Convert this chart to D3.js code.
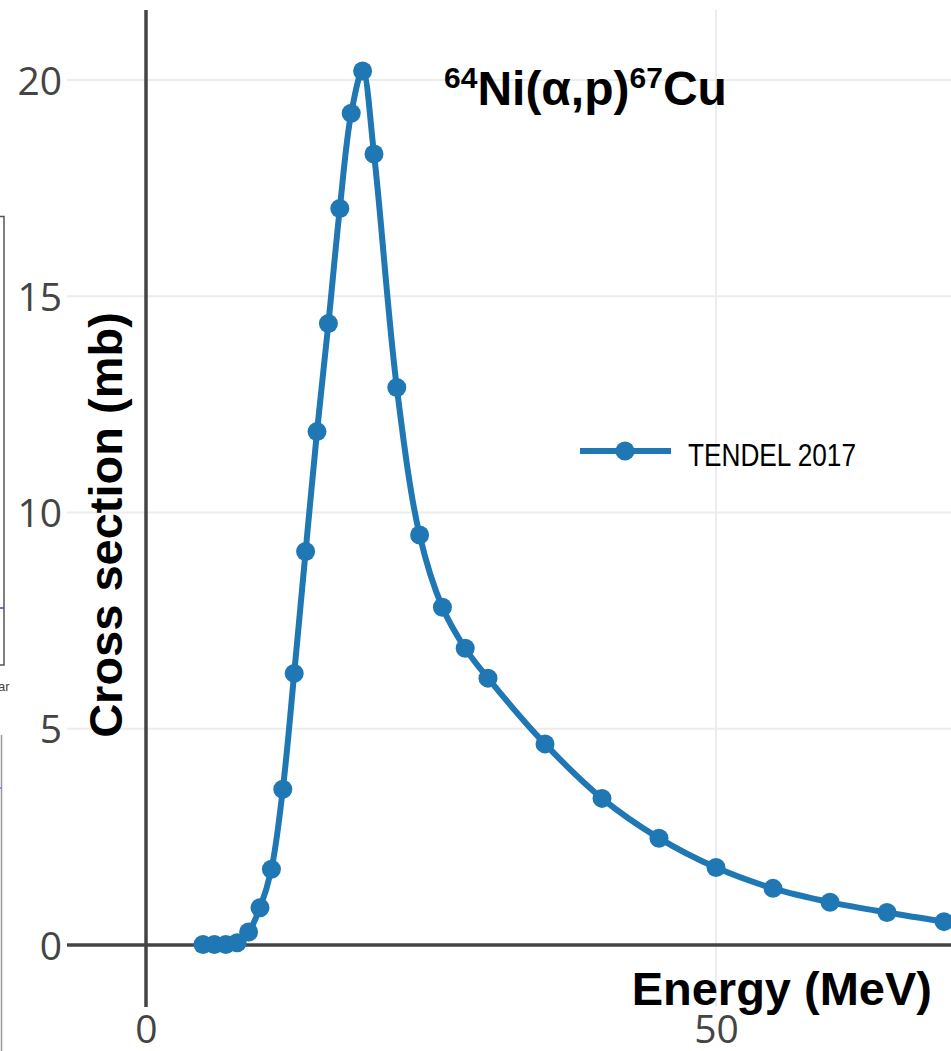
<!DOCTYPE html>
<html>
<head>
<meta charset="utf-8">
<script src="https://cdn.jsdelivr.net/npm/d3@7"></script>
<style>
  html, body { margin: 0; padding: 0; background: #fff; }
  svg { display: block; }
</style>
</head>
<body>
<div id="chart"></div>
<script>
// ---- data ----
const energies = [5,6,7,8,9,10,11,12,13,14,15,16,17,18,19,20,22,24,26,28,30,35,40,45,50,55,60,65,70];
const crossSections = [0.01,0.01,0.01,0.05,0.30,0.86,1.75,3.60,6.28,9.10,11.87,14.37,17.03,19.23,20.21,18.29,12.89,9.48,7.81,6.86,6.17,4.65,3.39,2.47,1.79,1.31,0.99,0.75,0.54];
const seriesName = "TENDEL 2017";
const xTicks = [0, 50];
const yTicks = [0, 5, 10, 15, 20];
const xTitle = "Energy (MeV)";
const yTitle = "Cross section (mb)";

const W = 951, H = 1051;
const plot = {left: 67, right: 951, top: 10, bottom: 1007};

const svg = d3.select("#chart").append("svg").attr("width", W).attr("height", H);

const x = d3.scaleLinear().domain([0, 50]).range([146, 716]);
const y = d3.scaleLinear().domain([0, 20]).range([945, 80]);

// --- cropped fragment of a neighbouring figure at the left edge ---
const frag = svg.append("g");
frag.append("path").attr("d", "M0,216.5 H4 V665 H0").attr("fill", "none").attr("stroke", "#555").attr("stroke-width", 1.5);
frag.append("line").attr("x1", 0).attr("x2", 4).attr("y1", 608).attr("y2", 608).attr("stroke", "#2f4bdc").attr("stroke-width", 1.5);
frag.append("text").attr("x", -2).attr("y", 691).text("ar").attr("font-family", "Liberation Sans, Arial, sans-serif").attr("font-size", 13).attr("fill", "#444");
frag.append("line").attr("x1", 1.5).attr("x2", 1.5).attr("y1", 735).attr("y2", H).attr("stroke", "#999").attr("stroke-width", 1.5);
frag.append("line").attr("x1", 0).attr("x2", 1.5).attr("y1", 788).attr("y2", 788).attr("stroke", "#6a7cf0").attr("stroke-width", 1.5);

// --- gridlines ---
const grid = svg.append("g");
grid.selectAll("line.h").data(yTicks.filter(d => d !== 0)).enter().append("line")
  .attr("x1", plot.left).attr("x2", plot.right)
  .attr("y1", d => y(d)).attr("y2", d => y(d))
  .attr("stroke", "#ececec").attr("stroke-width", 2);
grid.selectAll("line.v").data(xTicks.filter(d => d !== 0)).enter().append("line")
  .attr("x1", d => x(d)).attr("x2", d => x(d))
  .attr("y1", plot.top).attr("y2", plot.bottom)
  .attr("stroke", "#ececec").attr("stroke-width", 2);

// --- zero lines ---
svg.append("line").attr("x1", plot.left).attr("x2", plot.right)
  .attr("y1", y(0)).attr("y2", y(0)).attr("stroke", "#444").attr("stroke-width", 3.5);
svg.append("line").attr("x1", x(0)).attr("x2", x(0))
  .attr("y1", plot.top).attr("y2", plot.bottom).attr("stroke", "#444").attr("stroke-width", 3.5);

// --- tick labels via axes ---
const yAxis = d3.axisLeft(y).tickValues(yTicks).tickSize(0).tickPadding(0).tickFormat(d3.format("d"));
const gy = svg.append("g").attr("transform", `translate(62,0)`).call(yAxis);
gy.select(".domain").remove();
gy.selectAll("text").attr("font-family", "'Open Sans', sans-serif").attr("font-size", 39).attr("fill", "#444").attr("dy", "0.36em");

const xAxis = d3.axisBottom(x).tickValues(xTicks).tickSize(0).tickPadding(0).tickFormat(d3.format("d"));
const gx = svg.append("g").attr("transform", `translate(0,1015)`).call(xAxis);
gx.select(".domain").remove();
gx.selectAll("text").attr("font-family", "'Open Sans', sans-serif").attr("font-size", 39).attr("fill", "#444").attr("dy", "0.72em");

// --- series ---
const pts = energies.map((e, i) => [e, crossSections[i]]);
const line = d3.line().x(d => x(d[0])).y(d => y(d[1])).curve(d3.curveCatmullRom.alpha(0.5));
svg.append("path").datum(pts).attr("d", line).attr("fill", "none")
  .attr("stroke", "#1f77b4").attr("stroke-width", 6).attr("stroke-linejoin", "round");
svg.append("g").selectAll("circle").data(pts).enter().append("circle")
  .attr("cx", d => x(d[0])).attr("cy", d => y(d[1])).attr("r", 9.5).attr("fill", "#1f77b4");

// --- title ---
const title = svg.append("text").attr("x", 444).attr("y", 105)
  .attr("font-family", "'Liberation Sans', Arial, sans-serif").attr("font-weight", "bold")
  .attr("font-size", 48).attr("fill", "#000");
title.append("tspan").text("64").attr("font-size", 30).attr("dy", -17);
title.append("tspan").text("Ni(α,p)").attr("dy", 17);
title.append("tspan").text("67").attr("font-size", 30).attr("dy", -17);
title.append("tspan").text("Cu").attr("dy", 17);

// --- axis titles ---
svg.append("text").attr("x", 932).attr("y", 1005).attr("text-anchor", "end")
  .attr("font-family", "'Liberation Sans', Arial, sans-serif").attr("font-weight", "bold")
  .attr("font-size", 47).attr("fill", "#000").text(xTitle);
svg.append("text").attr("transform", "translate(122,525) rotate(-90)").attr("text-anchor", "middle")
  .attr("font-family", "'Liberation Sans', Arial, sans-serif").attr("font-weight", "bold")
  .attr("font-size", 47).attr("fill", "#000").text(yTitle);

// --- legend ---
const lg = svg.append("g").attr("transform", "translate(580,451)");
lg.append("line").attr("x1", 0).attr("x2", 91).attr("y1", 0).attr("y2", 0).attr("stroke", "#1f77b4").attr("stroke-width", 6);
lg.append("circle").attr("cx", 45).attr("cy", 0).attr("r", 9.5).attr("fill", "#1f77b4");
lg.append("text").attr("x", 108).attr("y", 15).text(seriesName)
  .attr("font-family", "'Liberation Sans', Arial, sans-serif")
  .attr("font-size", 31).attr("fill", "#000")
  .attr("textLength", 168).attr("lengthAdjust", "spacingAndGlyphs");
</script>
</body>
</html>
